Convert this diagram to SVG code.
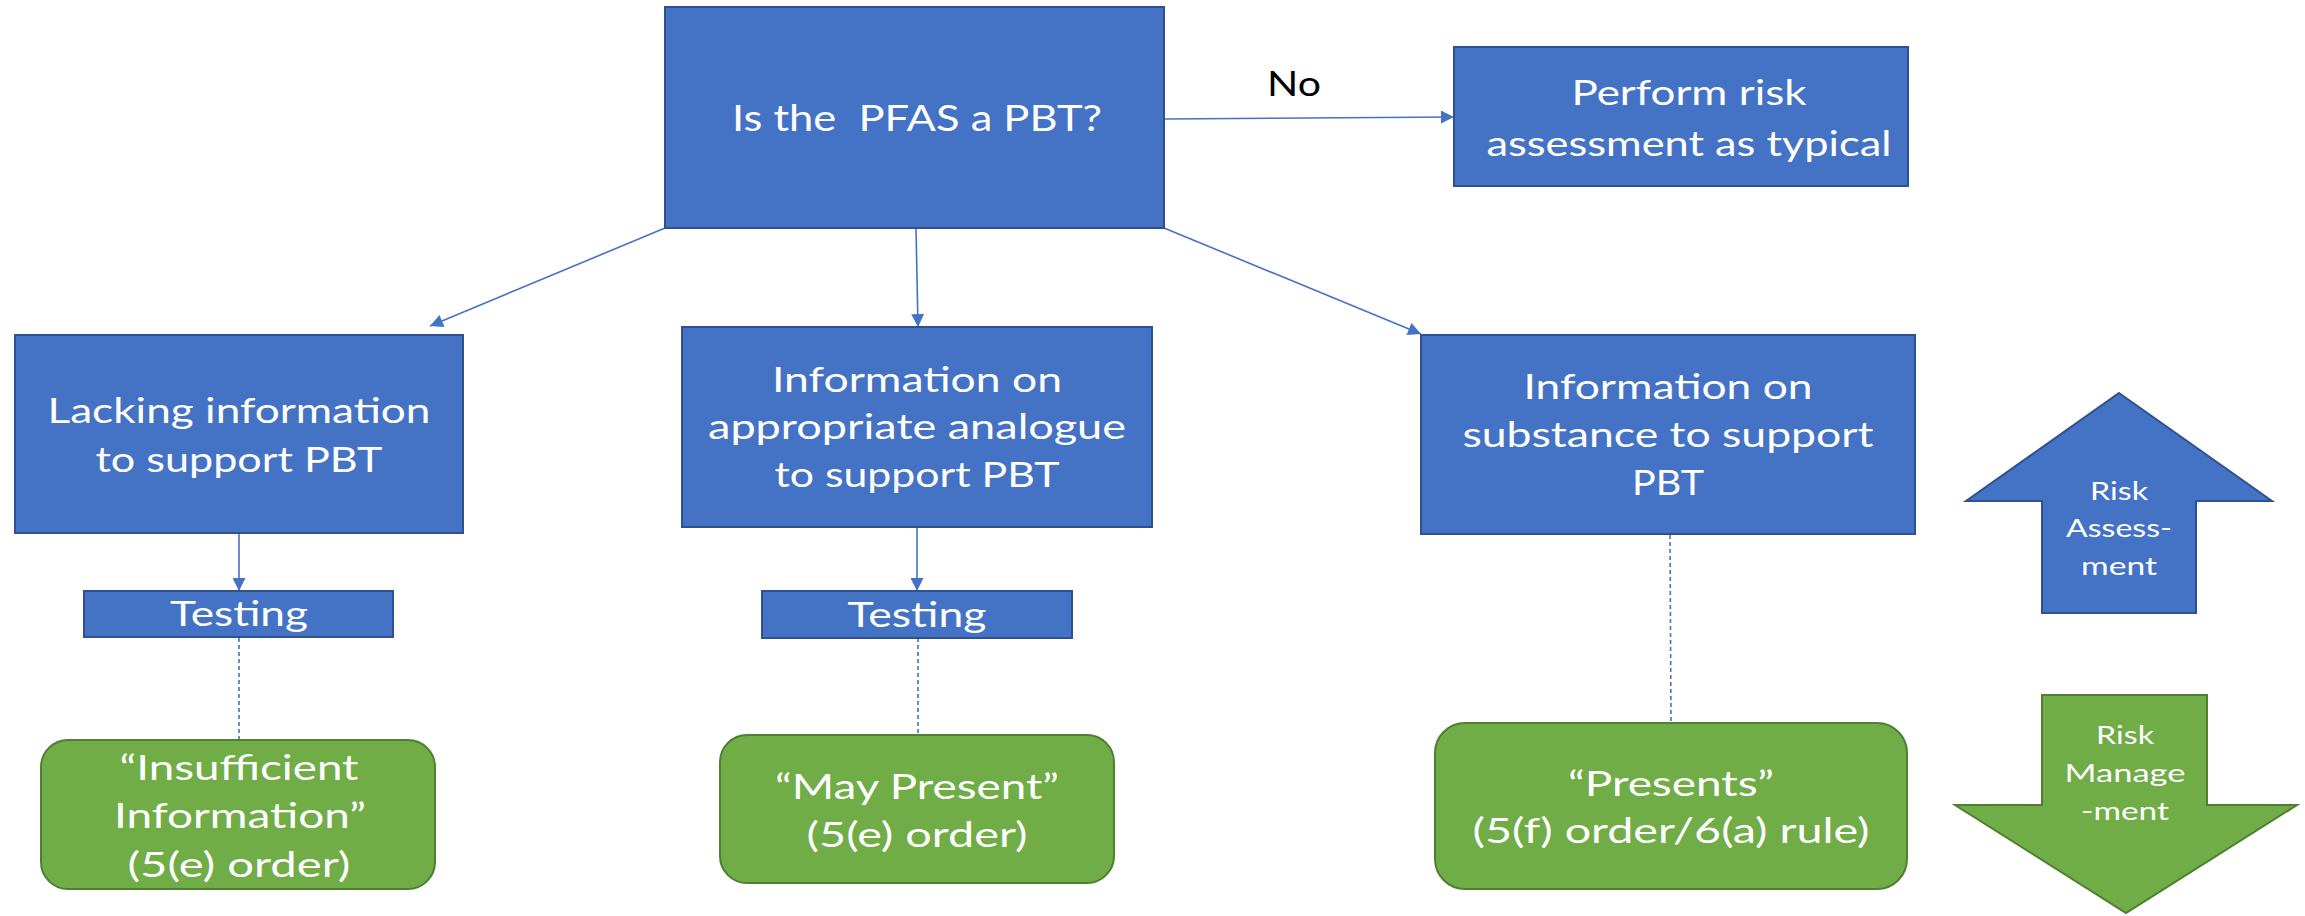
<svg xmlns="http://www.w3.org/2000/svg" width="2305" height="916" viewBox="0 0 2305 916">
<style>
.box{fill:#4472C4;stroke:#2F528F;stroke-width:2}
.gbox{fill:#70AD47;stroke:#507E32;stroke-width:2}
.t{font-family:Lato,"Open Sans","Liberation Sans",sans-serif;fill:#FFFFFF;text-anchor:middle}
.k{font-family:Lato,"Open Sans","Liberation Sans",sans-serif;fill:#000000;text-anchor:middle}
.c{stroke:#4472C4;stroke-width:1.6;fill:none}
.d{stroke:#4472C4;stroke-width:1.6;fill:none;stroke-dasharray:4 3}
</style>
<defs>
<marker id="ahb" viewBox="0 0 10 10" refX="10" refY="5" markerWidth="14" markerHeight="13" markerUnits="userSpaceOnUse" orient="auto"><path d="M0,0 L10,5 L0,10 Z" fill="#4472C4"/></marker>
</defs>

<g id="connectors">
<path class="c" d="M665,228 L430,326" marker-end="url(#ahb)"/>
<path class="c" d="M916,228 L918,327" marker-end="url(#ahb)"/>
<path class="c" d="M1164,228 L1421,334" marker-end="url(#ahb)"/>
<path class="c" d="M1164,119 L1454,117" marker-end="url(#ahb)"/>
<path class="c" d="M239,533 L239,591" marker-end="url(#ahb)"/>
<path class="c" d="M917,527 L917,591" marker-end="url(#ahb)"/>
<path class="d" d="M239,638 L239,740"/>
<path class="d" d="M918,638 L918,735"/>
<path class="d" d="M1670,535 L1671,723"/>
<text class="k" x="1294" y="96" font-size="35" textLength="54" lengthAdjust="spacingAndGlyphs">No</text>
</g>

<g id="main">
<rect class="box" x="665" y="7" width="499" height="221"/>
<text class="t" x="917" y="131" font-size="36" xml:space="preserve" textLength="370" lengthAdjust="spacingAndGlyphs">Is the  PFAS a PBT?</text>
</g>

<g id="perform">
<rect class="box" x="1454" y="47" width="454" height="139"/>
<text class="t" x="1689" y="105" font-size="34" textLength="235" lengthAdjust="spacingAndGlyphs">Perform risk</text>
<text class="t" x="1689" y="156" font-size="34" textLength="405" lengthAdjust="spacingAndGlyphs">assessment as typical</text>
</g>

<g id="lacking">
<rect class="box" x="15" y="335" width="448" height="198"/>
<text class="t" x="239" y="423" font-size="35" textLength="383" lengthAdjust="spacingAndGlyphs">Lacking information</text>
<text class="t" x="239" y="472" font-size="35" textLength="287" lengthAdjust="spacingAndGlyphs">to support PBT</text>
</g>

<g id="analogue">
<rect class="box" x="682" y="327" width="470" height="200"/>
<text class="t" x="917" y="392" font-size="35" textLength="290" lengthAdjust="spacingAndGlyphs">Information on</text>
<text class="t" x="917" y="439" font-size="35" textLength="418" lengthAdjust="spacingAndGlyphs">appropriate analogue</text>
<text class="t" x="917" y="487" font-size="35" textLength="285" lengthAdjust="spacingAndGlyphs">to support PBT</text>
</g>

<g id="substance">
<rect class="box" x="1421" y="335" width="494" height="199"/>
<text class="t" x="1668" y="399" font-size="35" textLength="289" lengthAdjust="spacingAndGlyphs">Information on</text>
<text class="t" x="1668" y="447" font-size="35" textLength="411" lengthAdjust="spacingAndGlyphs">substance to support</text>
<text class="t" x="1668" y="495" font-size="35" textLength="72" lengthAdjust="spacingAndGlyphs">PBT</text>
</g>

<g id="testing1">
<rect class="box" x="84" y="591" width="309" height="46"/>
<text class="t" x="239" y="626" font-size="34" textLength="138" lengthAdjust="spacingAndGlyphs">Testing</text>
</g>

<g id="testing2">
<rect class="box" x="762" y="591" width="310" height="47"/>
<text class="t" x="917" y="627" font-size="34" textLength="139" lengthAdjust="spacingAndGlyphs">Testing</text>
</g>

<g id="insufficient">
<rect class="gbox" x="41" y="740" width="394" height="149" rx="27" ry="27"/>
<text class="t" x="239" y="780" font-size="34" textLength="239" lengthAdjust="spacingAndGlyphs">“Insufficient</text>
<text class="t" x="240" y="828" font-size="34" textLength="252" lengthAdjust="spacingAndGlyphs">Information”</text>
<text class="t" x="239" y="877" font-size="34" textLength="223" lengthAdjust="spacingAndGlyphs">(5(e) order)</text>
</g>

<g id="maypresent">
<rect class="gbox" x="720" y="735" width="394" height="148" rx="27" ry="27"/>
<text class="t" x="917" y="799" font-size="34" textLength="284" lengthAdjust="spacingAndGlyphs">“May Present”</text>
<text class="t" x="917" y="847" font-size="34" textLength="221" lengthAdjust="spacingAndGlyphs">(5(e) order)</text>
</g>

<g id="presents">
<rect class="gbox" x="1435" y="723" width="472" height="166" rx="30" ry="30"/>
<text class="t" x="1671" y="796" font-size="34" textLength="206" lengthAdjust="spacingAndGlyphs">“Presents”</text>
<text class="t" x="1671" y="843" font-size="34" textLength="397" lengthAdjust="spacingAndGlyphs">(5(f) order/6(a) rule)</text>
</g>

<g id="risk-assessment">
<polygon class="box" points="2119,393 2272,501 2196,501 2196,613 2042,613 2042,501 1966,501"/>
<text class="t" x="2119" y="500" font-size="25" textLength="58" lengthAdjust="spacingAndGlyphs">Risk</text>
<text class="t" x="2119" y="537" font-size="25" textLength="106" lengthAdjust="spacingAndGlyphs">Assess-</text>
<text class="t" x="2119" y="575" font-size="25" textLength="76" lengthAdjust="spacingAndGlyphs">ment</text>
</g>

<g id="risk-management">
<polygon class="gbox" points="2042,695 2207,695 2207,805 2297,805 2126,913 1955,805 2042,805"/>
<text class="t" x="2125" y="744" font-size="25" textLength="58" lengthAdjust="spacingAndGlyphs">Risk</text>
<text class="t" x="2125" y="782" font-size="25" textLength="121" lengthAdjust="spacingAndGlyphs">Manage</text>
<text class="t" x="2125" y="820" font-size="25" textLength="88" lengthAdjust="spacingAndGlyphs">-ment</text>
</g>
</svg>
